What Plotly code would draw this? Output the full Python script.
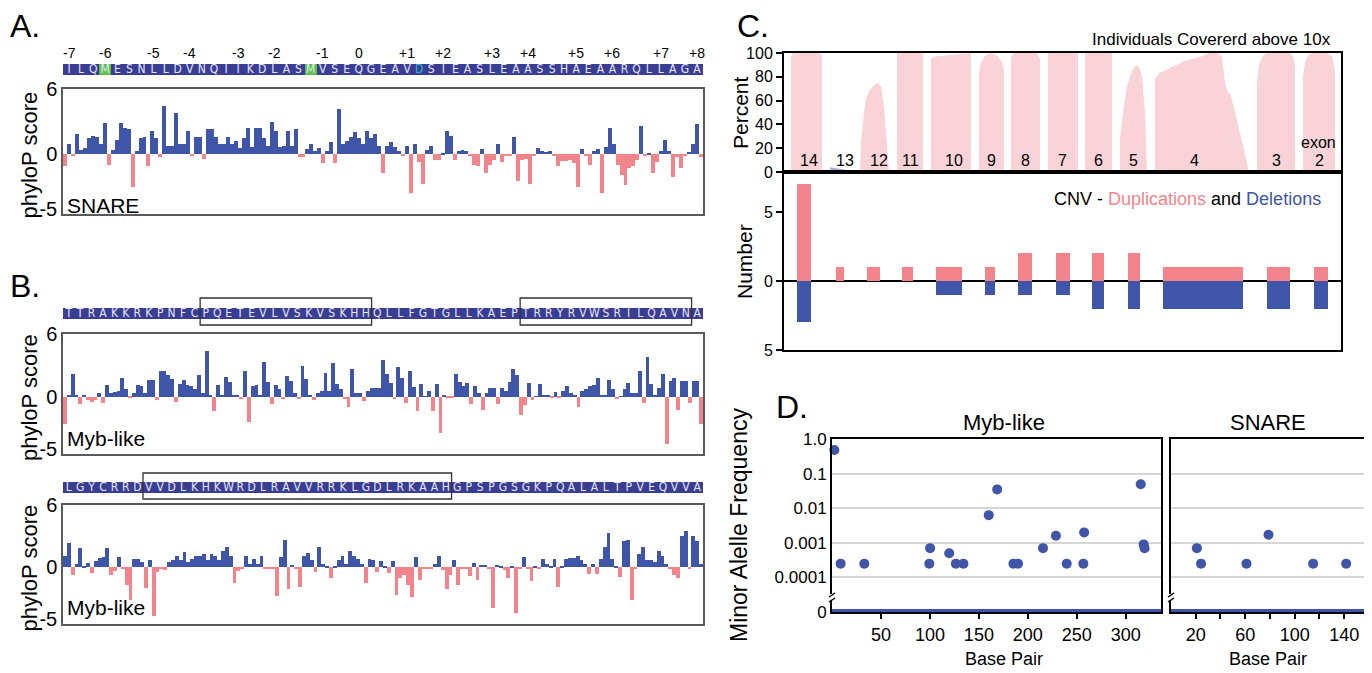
import plotly.graph_objects as go

# ---------------- data ----------------
seq_A = list("ILQMESNLLDVNQIIKDLASMVSEQGEAVDSIEASLEAASSHAEAARQLLAGA")
heptad_idx_A = [0, 3, 7, 10, 14, 17, 21, 24, 28, 31, 35, 38, 42, 45, 49, 52]
heptad_lab_A = ["-7", "-6", "-5", "-4", "-3", "-2", "-1", "0", "+1", "+2", "+3", "+4", "+5", "+6", "+7", "+8"]
green_A = [3, 20]
cyan_A = [29]
phylo_A = [-1.1, 0.9, -0.2, 1.9, 0.4, 0.6, 1.5, 1.7, 1.6, 0.9, 2.9, -1.0, 0.4, 1.3, 2.9, 2.4, 2.3, -3.0, 0.3, 1.5,
           1.6, -1.1, 2.1, 1.5, -0.3, 4.4, 0.8, 0.8, 3.8, 0.9, 0.9, 2.1, -0.1, 1.6, 1.6, -0.4, 2.3, 2.3, 1.6, 0.9,
           0.9, 1.6, 0.9, 1.2, 0.6, 1.5, 2.4, 0.7, 2.4, 2.4, 1.5, 0.8, 3.0, 2.1, 0.7, 0.8, 2.1, 0.8, 2.3, -0.3,
           -0.3, 0.5, 0.9, 0.3, 0.6, -0.8, 0.3, 1.1, -0.8, 4.2, 0.9, 1.2, 1.6, 2.0, 1.5, 0.9, 2.1, 1.5, 1.9, 0.8,
           -1.7, 0.8, 1.1, 0.7, 0.3, -0.1, 0.8, -3.6, 0.9, -0.7, -2.7, 0.4, 0.8, -0.5, -0.5, 0.1, 2.1, 1.7, -0.5, 0.3,
           0.4, 0.3, -0.1, -1.0, -1.1, 0.5, -1.7, -1.0, -0.5, 0.9, -0.7, -0.2, -0.1, 1.6, -2.5, -0.5, -0.4, -2.7, -0.1, 0.6,
           0.3, 0.2, 0.3, -0.2, -1.1, -0.6, -0.6, -0.5, -0.8, -3.0, 0.5, -0.2, -1.0, 0.3, 0.5, -3.6, 0.7, 2.4, 0.9, -1.0,
           -1.9, -2.8, -1.3, -1.1, -0.5, 2.6, -0.1, 0.1, -1.7, -0.7, 0.3, 1.3, 0.3, -2.1, -0.3, -1.3, -0.2, 0.2, 0.9, 2.8,
           -0.3]

seq_B1 = list("TTRAKKRKPNFCPQETEVLVSKVSKHHQLLFGTGLLKAEPTRRYRVWSRILQAVNA")
boxes_B1 = [(12, 26), (40, 54)]
phylo_B1 = [-2.6, 0.1, 2.2, 0.1, -0.7, 0.2, -0.3, -0.5, -0.3, 0.3, -0.6, 1.1, 0.3, 0.4, 0.5, 1.8, 0.7, -0.1, 0.3, 1.1,
            1.0, 0.3, 1.6, 1.6, -0.3, 2.5, 2.5, 2.1, 1.7, -0.5, 1.2, 1.6, 1.1, 1.0, 0.7, 2.1, 0.3, 4.4, 0.2, -1.4,
            1.1, 0.1, 1.9, 1.4, 0.2, 0.2, -0.2, 2.5, -2.4, 1.0, 1.1, 0.1, 3.3, 1.4, -0.7, 1.1, 0.7, -0.2, 2.0, 1.5,
            0.3, -0.2, 2.9, 1.7, 0.2, -0.3, 0.3, 0.5, 2.3, 0.5, 3.2, 1.2, 0.7, -0.2, -1.0, 2.6, 0.3, 0.3, -0.4, 0.5,
            0.8, 0.8, 0.8, 3.5, 2.2, 1.3, -0.2, 2.8, 1.8, -0.6, 2.5, 0.9, -1.4, 1.2, 0.05, 0.5, -1.4, 1.2, -3.5, 0.2,
            -0.1, -0.1, 2.2, 1.4, 1.0, 1.3, -0.7, 1.0, 0.3, -1.3, 0.3, 0.8, 0.8, -0.7, 0.8, 0.5, 1.4, 2.6, 2.1, -1.8,
            -0.8, 1.3, -0.3, 0.05, 1.2, 0.2, 0.2, -0.1, 0.4, -0.1, 0.5, 1.0, 0.3, 0.1, -1.0, 0.5, 0.7, 1.0, 1.1, 1.8,
            0.2, 0.1, 1.6, 0.7, -0.2, 0.05, 0.7, 1.3, 0.3, 0.3, 2.5, -0.6, 3.8, 1.2, 0.2, 0.8, 2.2, -4.5, 1.5, 1.8,
            -1.3, 1.5, 1.5, -0.6, 1.5, 1.5, -2.6]

seq_B2 = list("LGYCRRDVVDLKHKWRDLRAVVRRKLGDLRKAAHGPSPGSGKPQALALTPVEQVVA")
boxes_B2 = [(7, 33)]
phylo_B2 = [1.1, 2.3, -0.8, 0.3, 1.8, 0.05, 0.4, -0.6, 0.6, 0.9, 1.0, 1.8, -0.8, -0.4, 1.0, -0.1, -1.7, -3.2, 0.8, 0.8,
            0.5, -2.0, 0.7, -4.7, -0.5, -0.1, -0.3, 0.5, 0.7, 1.1, 0.7, 1.5, 0.5, 0.8, 1.1, 1.1, 1.3, 0.7, 1.3, 1.1,
            0.7, 1.6, 1.9, 1.1, -1.5, -0.4, -0.1, 1.1, 0.3, 0.8, 0.3, 1.1, -0.1, -0.1, -0.1, -2.8, 1.0, 2.6, -2.1, 0.2,
            -0.2, -1.9, 1.1, 1.4, 0.7, -0.5, 1.9, 0.3, 0.1, -1.1, 0.1, 0.7, 1.1, 0.3, 1.6, 1.1, 0.8, 0.3, -1.5, 0.8,
            0.7, -0.5, 0.6, 0.05, -0.6, 0.6, -2.7, -1.1, -0.8, -1.7, -2.9, 1.0, -1.2, -0.1, -0.1, -0.1, 0.3, 1.1, -0.3, -2.1,
            -0.8, 0.7, -1.7, -0.1, -0.1, -0.9, 0.4, -1.2, 0.2, 0.2, -0.2, -4.0, 0.2, 0.05, -0.3, -1.1, 0.1, -4.4, -0.2, 1.0,
            -0.2, -1.3, 0.1, -0.2, 0.8, 0.3, 0.05, 0.8, -1.9, 0.1, 0.8, 0.9, 0.9, 1.1, 0.7, 0.3, -0.7, 0.3, -0.7, 0.8,
            1.9, 3.3, 0.8, 0.05, -1.0, 2.5, 2.6, -3.2, -0.2, 1.3, 1.9, 0.7, 0.7, 0.5, 1.6, 1.1, 0.3, -0.2, -0.8, -1.1,
            3.0, 3.5, -0.1, 3.0, 2.5, 0.3]

# Panel C: coverage (gene position units) and CNV counts per exon
exon_names = ["14", "13", "12", "11", "10", "9", "8", "7", "6", "5", "4", "3", "2"]
exon_label_x = [22, 58, 92, 123, 167, 204, 238, 275, 311, 346, 407, 489, 532]
cov_x = [
    [4, 4, 6, 33, 35, 35],
    [43, 43, 65, 65],
    [73, 74, 77, 79, 82, 86, 91, 94, 97, 100, 102],
    [110, 110, 136, 136],
    [144, 144, 148, 160, 180, 184, 184],
    [192, 192, 194, 198, 204, 210, 215, 217, 217],
    [224, 224, 227, 250, 253, 253],
    [261, 261, 291, 291],
    [298, 298, 325, 325],
    [333, 333, 336, 340, 345, 349, 352, 355, 358, 360],
    [368, 368, 372, 385, 397, 414, 422, 431, 435, 438, 441, 443, 445, 450, 456, 462],
    [470, 470, 472, 476, 480, 503, 506, 508, 508],
    [516, 516, 518, 522, 526, 540, 545, 548, 548],
]
cov_y = [
    [0, 97, 100, 100, 97, 0],
    [0, 4, 1, 0],
    [0, 25, 50, 62, 68, 72, 75, 72, 55, 25, 0],
    [0, 100, 100, 0],
    [0, 95, 97, 98, 100, 100, 0],
    [0, 85, 92, 98, 100, 98, 92, 85, 0],
    [0, 97, 100, 100, 95, 0],
    [0, 100, 100, 0],
    [0, 100, 100, 0],
    [0, 28, 50, 72, 85, 90, 88, 80, 50, 0],
    [0, 78, 83, 88, 93, 97, 100, 100, 97, 75, 66, 67, 60, 45, 22, 0],
    [0, 75, 90, 98, 100, 100, 97, 90, 0],
    [0, 80, 92, 99, 100, 100, 97, 85, 0],
]
cnv_center = [16.9, 53, 86.5, 120.3, 162, 202.8, 237.8, 275.8, 311, 346.6, 416, 491.5, 533.8]
cnv_width = [14.6, 8, 13, 11.4, 26, 9.5, 14.5, 14.5, 12, 12.2, 80, 23, 13.5]
cnv_dup = [7, 1, 1, 1, 1, 1, 2, 2, 2, 2, 1, 1, 1]
cnv_del = [3, 0, 0, 0, 1, 1, 1, 1, 2, 2, 2, 2, 2]

# Panel D: minor allele frequency
maf_myb_bp = [2.4, 8.8, 33, 99.4, 100.2, 119.7, 126.5, 134.2, 160.1, 168.7, 185.3, 190, 215.5, 228.7, 239.7,
              256.7, 257.5, 315.3, 318.3, 319.2]
maf_myb_freq = [0.48, 0.00025, 0.00025, 0.00025, 0.0007, 0.0005, 0.00025, 0.00025, 0.0063, 0.035, 0.00025,
                0.00025, 0.0007, 0.0016, 0.00025, 0.00025, 0.002, 0.049, 0.0009, 0.0007]
maf_snare_bp = [20.9, 24.3, 61, 78.8, 114.9, 141.6]
maf_snare_freq = [0.0007, 0.00025, 0.00025, 0.0017, 0.00025, 0.00025]
myb_length = 336
snare_length = 156
maf_ticks = [1e-5, 1e-4, 1e-3, 1e-2, 1e-1, 1]
maf_ticktext = ["0", "0.0001", "0.001", "0.01", "0.1", "1.0"]

# ---------------- style ----------------
OFF = 8                      # page body margin of the html page
W, H = 1372 - OFF, 673 - OFF
BLUE = "#3f55a8"
RED = "#f4848b"
NAVY = "#3a3e92"
GREEN = "#5cbf45"
CYAN = "#2bb5d0"
PINK = "#f9d3d8"
LAV = "#aab0dc"
FONT = "Liberation Sans, Arial, sans-serif"
NARROW = "Liberation Sans Narrow, DejaVu Sans Condensed, sans-serif"


def px(x):
    return (x - OFF) / W


def py(y):
    return 1 - (y - OFF) / H


fig = go.Figure()
annotations = []
shapes = []


def note(text, x, y, size, xref="paper", xanchor="center", angle=0, color="black"):
    annotations.append(dict(text=text, x=x if xref != "paper" else px(x), y=py(y), xref=xref, yref="paper",
                            xanchor=xanchor, yanchor="middle", showarrow=False, textangle=angle,
                            font=dict(size=size, family=FONT, color=color)))


def phylo_panel(vals, seq, n, top, bot, s_top, s_bot, label, label_y, greens=(), cyans=(), boxes=(), box_ext=(0, 0)):
    xa, ya = f"x{n}" if n > 1 else "x", f"y{n}" if n > 1 else "y"
    xs, ys = f"x{n+1}", f"y{n+1}"
    cols = [BLUE if v >= 0 else RED for v in vals]
    fig.add_trace(go.Bar(x=list(range(len(vals))), y=vals, marker=dict(color=cols, line=dict(width=0)),
                         xaxis=xa, yaxis=ya, hoverinfo="skip"))
    cell_cols = [GREEN if i in greens else NAVY for i in range(len(seq))]
    txt_cols = [CYAN if i in cyans else "#e6e6fa" for i in range(len(seq))]
    fig.add_trace(go.Bar(x=list(range(len(seq))), y=[1] * len(seq), width=1,
                         marker=dict(color=cell_cols, line=dict(width=0)), xaxis=xs, yaxis=ys, hoverinfo="skip"))
    fig.add_trace(go.Scatter(x=list(range(len(seq))), y=[0.5] * len(seq), mode="text", text=seq,
                             textfont=dict(color=txt_cols, size=12, family=NARROW), xaxis=xs, yaxis=ys,
                             hoverinfo="skip"))
    ax = dict(domain=[px(63), px(703)], showticklabels=False, ticks="", showgrid=False, zeroline=False,
              automargin=False)
    fig.layout[("xaxis" + str(n)) if n > 1 else "xaxis"] = dict(
        ax, range=[-0.5, len(vals) - 0.5], showline=True, mirror=True, linecolor="#5a5a5a", linewidth=1.5,
        anchor=ya)
    fig.layout[("yaxis" + str(n)) if n > 1 else "yaxis"] = dict(
        domain=[py(bot), py(top)], range=[-5.5, 6], tickvals=[-5, 0, 6], ticktext=["-5", "0", "6"],
        tickfont=dict(size=20, family=FONT, color="black"), showline=True, mirror=True, linecolor="#5a5a5a",
        linewidth=1.5, showgrid=False, zeroline=False, ticks="", anchor=xa, automargin=False)
    fig.layout["xaxis" + str(n + 1)] = dict(ax, range=[-0.5, len(seq) - 0.5], visible=False, anchor=ys)
    fig.layout["yaxis" + str(n + 1)] = dict(domain=[py(s_bot), py(s_top)], range=[0, 1], visible=False,
                                            anchor=xs, automargin=False)
    for b0, b1 in boxes:
        shapes.append(dict(type="rect", xref=xs, yref="paper", x0=b0 - 0.5, x1=b1 + 0.5,
                           y0=py(s_bot + box_ext[1]), y1=py(s_top - box_ext[0]),
                           line=dict(color="#333333", width=1.3)))
    note("phyloP score", 29, (top + bot) / 2 + 4, 22, angle=-90)
    note(label, 65, label_y, 21, xanchor="left")
    return xs


xsA = phylo_panel(phylo_A, seq_A, 1, 89, 214, 64, 75, "SNARE", 205, greens=green_A, cyans=cyan_A)
for i, lab in zip(heptad_idx_A, heptad_lab_A):
    note(lab, i, 53, 14, xref=xsA)
phylo_panel(phylo_B1, seq_B1, 3, 334, 454, 308, 319, "Myb-like", 438, boxes=boxes_B1, box_ext=(10, 6))
phylo_panel(phylo_B2, seq_B2, 5, 505, 624, 482, 493, "Myb-like", 607, boxes=boxes_B2, box_ext=(9, 6))

# ---------------- Panel C ----------------
for name, xs_, ys_ in zip(exon_names, cov_x, cov_y):
    fig.add_trace(go.Scatter(x=xs_, y=ys_, fill="toself", mode="lines", line=dict(width=0),
                             fillcolor=LAV if name == "13" else PINK, xaxis="x7", yaxis="y7", hoverinfo="skip"))
fig.add_trace(go.Bar(x=cnv_center, y=cnv_dup, width=cnv_width, marker=dict(color=RED, line=dict(width=0)),
                     xaxis="x8", yaxis="y8", hoverinfo="skip"))
fig.add_trace(go.Bar(x=cnv_center, y=[-d for d in cnv_del], width=cnv_width,
                     marker=dict(color=BLUE, line=dict(width=0)), xaxis="x8", yaxis="y8", hoverinfo="skip"))

cx = dict(domain=[px(784), px(1341)], range=[-3, 554], showticklabels=False, ticks="", showgrid=False,
          zeroline=False, showline=True, mirror=True, linecolor="black", linewidth=2, automargin=False)
fig.layout.xaxis7 = dict(cx, anchor="y7")
fig.layout.xaxis8 = dict(cx, anchor="y8")
fig.layout.yaxis7 = dict(domain=[py(172), py(53)], range=[0, 100], tickvals=[0, 20, 40, 60, 80, 100],
                         ticks="outside", ticklen=6, tickwidth=2, tickcolor="black",
                         tickfont=dict(size=16, family=FONT, color="black"), showline=True, mirror=True,
                         linecolor="black", linewidth=2, showgrid=False, zeroline=False, anchor="x7",
                         automargin=False)
fig.layout.yaxis8 = dict(domain=[py(350), py(172)], range=[-5, 7.9], tickvals=[-5, 0, 5],
                         ticktext=["5", "0", "5"], ticks="outside", ticklen=6, tickwidth=2, tickcolor="black",
                         tickfont=dict(size=16, family=FONT, color="black"), showline=True, mirror=True,
                         linecolor="black", linewidth=2, showgrid=False, zeroline=True, zerolinecolor="black",
                         zerolinewidth=2, anchor="x8", automargin=False)
for name, lx in zip(exon_names, exon_label_x):
    note(name, lx, 161, 16, xref="x7")
note("exon", 531, 143, 16, xref="x7")
note("Individuals Covererd above 10x", 1333, 40, 17, xanchor="right")
note("CNV - <span style='color:#f4848b'>Duplications</span> and <span style='color:#3f55a8'>Deletions</span>",
     1323, 199, 18, xanchor="right")
note("Percent", 740, 113, 21, angle=-90)
note("Number", 744, 262, 21, angle=-90)

# ---------------- Panel D ----------------
fig.add_trace(go.Scatter(x=[0, myb_length], y=[1e-5, 1e-5], mode="lines", line=dict(color=BLUE, width=6),
                         xaxis="x9", yaxis="y9", cliponaxis=False, hoverinfo="skip"))
fig.add_trace(go.Scatter(x=[0, snare_length], y=[1e-5, 1e-5], mode="lines", line=dict(color=BLUE, width=6),
                         xaxis="x10", yaxis="y10", cliponaxis=False, hoverinfo="skip"))
fig.add_trace(go.Scatter(x=maf_myb_bp, y=maf_myb_freq, mode="markers", marker=dict(color=BLUE, size=10),
                         xaxis="x9", yaxis="y9", cliponaxis=False))
fig.add_trace(go.Scatter(x=maf_snare_bp, y=maf_snare_freq, mode="markers", marker=dict(color=BLUE, size=10),
                         xaxis="x10", yaxis="y10", cliponaxis=False))
dx = dict(ticks="outside", ticklen=5, tickwidth=2, tickcolor="black", showline=True, mirror=True,
          linecolor="black", linewidth=2, showgrid=False, zeroline=False, automargin=False,
          tickfont=dict(size=18, family=FONT, color="black"))
fig.layout.xaxis9 = dict(dx, domain=[px(832), px(1161)], range=[0, myb_length],
                         tickvals=[50, 100, 150, 200, 250, 300], anchor="y9")
fig.layout.xaxis10 = dict(dx, domain=[px(1171), px(1364)], range=[0, snare_length],
                          tickvals=[20, 40, 60, 80, 100, 120, 140],
                          ticktext=["20", "", "60", "", "100", "", "140"], anchor="y10")
dy = dict(type="log", range=[-5, 0], tickvals=maf_ticks, showline=True, mirror=True, linecolor="black",
          linewidth=2, showgrid=True, gridcolor="#d6d6d6", gridwidth=2, zeroline=False, ticks="",
          domain=[py(612), py(439)], automargin=False)
fig.layout.yaxis9 = dict(dy, ticktext=maf_ticktext, tickfont=dict(size=17, family=FONT, color="black"),
                         anchor="x9")
fig.layout.yaxis10 = dict(dy, showticklabels=False, anchor="x10")
note("Myb-like", 1004, 422, 22)
note("SNARE", 1268, 422, 22)
for cxp in (1004, 1268):
    note("Base Pair", cxp, 659, 18)
note("Minor Alelle Frequency", 739, 525, 23, angle=-90)
for bx in (832, 1171):
    shapes.append(dict(type="rect", xref="paper", yref="paper", x0=px(bx - 3), x1=px(bx + 3), y0=py(600),
                       y1=py(594), fillcolor="white", line=dict(width=0)))
    for dy_ in (0, 5):
        shapes.append(dict(type="line", xref="paper", yref="paper", x0=px(bx - 3), x1=px(bx + 3),
                           y0=py(597 + dy_), y1=py(593 + dy_), line=dict(color="black", width=1.5)))

# panel letters
for lab, lx, ly in (("A.", 8, 26), ("B.", 8, 286), ("C.", 735, 26), ("D.", 774, 407)):
    note(lab, lx, ly, 32, xanchor="left")

fig.update_layout(width=W, height=H, margin=dict(l=0, r=0, t=0, b=0, autoexpand=False), plot_bgcolor="white",
                  paper_bgcolor="white", showlegend=False, bargap=0, barmode="relative",
                  annotations=annotations, shapes=shapes)
fig.write_html("out.html")
